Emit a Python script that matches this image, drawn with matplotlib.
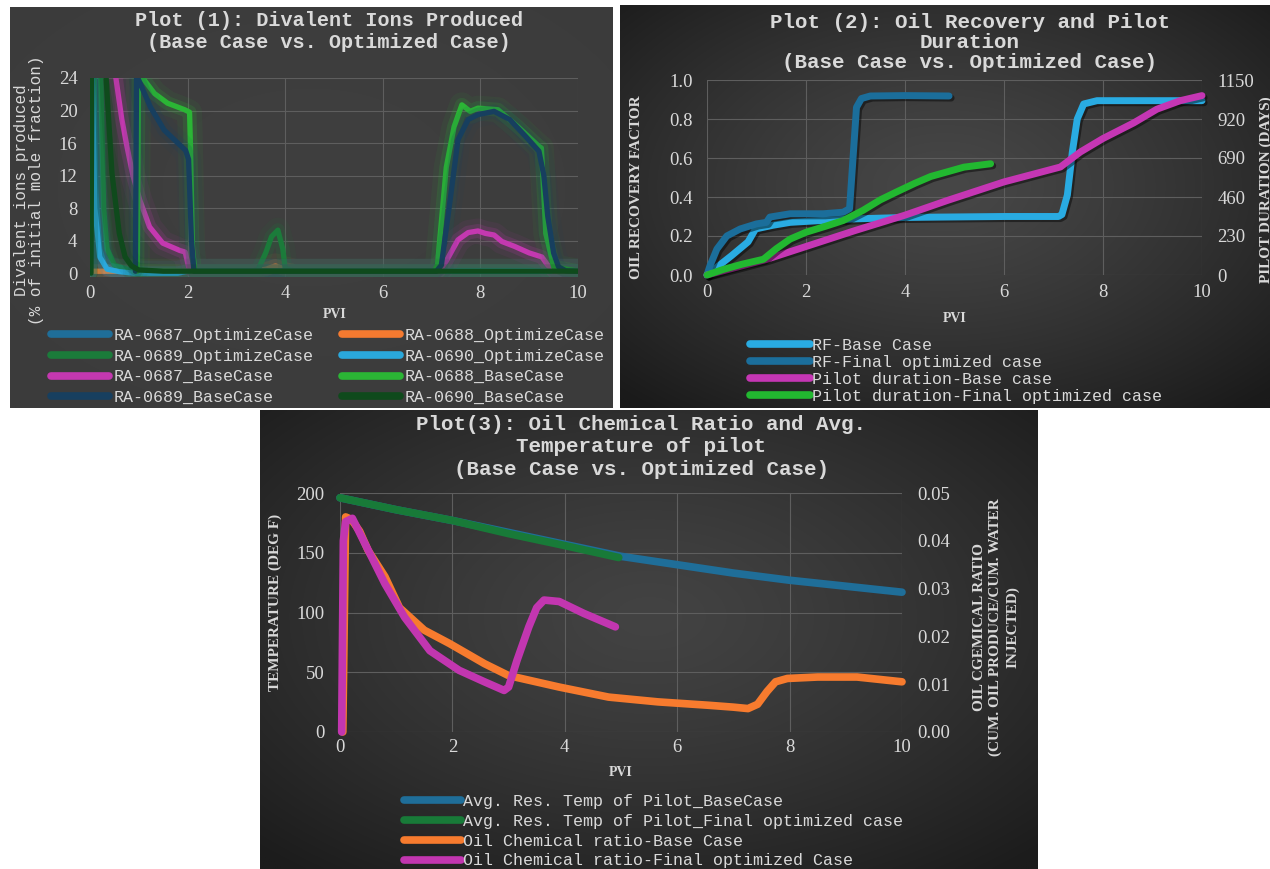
import numpy as np
import matplotlib
matplotlib.use("Agg")
import matplotlib.pyplot as plt
import matplotlib.patheffects as pe
from matplotlib.lines import Line2D
from matplotlib.colors import to_rgb

# ---------------- data : Plot 1 (divalent ions, % of initial mole fraction) ----------------
p1_labels = ["RA-0687_OptimizeCase", "RA-0688_OptimizeCase", "RA-0689_OptimizeCase",
             "RA-0690_OptimizeCase", "RA-0687_BaseCase", "RA-0688_BaseCase",
             "RA-0689_BaseCase", "RA-0690_BaseCase"]
p1_colors = ["#1f6e99", "#f47a30", "#1b7b3a", "#2aa8dc", "#c438b0", "#2bb535", "#173f5f", "#0f4a1c"]

x_687_opt = [0.0, 0.04, 0.08, 0.12, 0.2, 0.3, 0.5, 1.0, 2.0, 10.0]
y_687_opt = [0.0, 40.0, 24.0, 10.0, 3.0, 1.0, 0.3, 0.25, 0.25, 0.25]
x_688_opt = [0.0, 3.4, 3.6, 3.8, 4.0, 4.2, 10.0]
y_688_opt = [0.25, 0.25, 0.5, 0.9, 0.5, 0.25, 0.25]
x_689_opt = [0.0, 0.15, 0.22, 0.28, 0.35, 0.5, 0.8, 1.5, 3.3, 3.44, 3.6, 3.72, 3.85, 3.95, 4.0, 4.2, 5.0, 10.0]
y_689_opt = [0.0, 45.0, 24.0, 8.0, 3.0, 1.0, 0.4, 0.25, 0.25, 0.4, 2.5, 4.5, 5.3, 3.0, 0.6, 0.25, 0.25, 0.25]
x_690_opt = [0.0, 0.03, 0.06, 0.1, 0.2, 0.35, 0.6, 0.9, 1.8, 2.0, 10.0]
y_690_opt = [0.0, 30.0, 20.0, 8.0, 2.0, 0.5, 0.2, 0.0, 0.0, 0.25, 0.25]
x_687_base = [0.45, 0.53, 0.65, 0.76, 0.88, 1.02, 1.22, 1.49, 1.84, 1.95, 2.02, 2.1, 7.15, 7.3, 7.54,
              7.75, 7.95, 8.1, 8.28, 8.44, 8.7, 9.0, 9.26, 9.38, 9.5, 10.0]
y_687_base = [35.0, 24.0, 19.0, 15.5, 12.0, 9.0, 5.7, 3.7, 2.8, 2.6, 0.8, 0.25, 0.25, 1.5, 4.1,
              5.0, 5.2, 4.9, 4.7, 3.9, 3.3, 2.5, 2.0, 1.0, 0.25, 0.25]
x_688_base = [0.97, 1.0, 1.08, 1.32, 1.59, 1.94, 2.04, 2.06, 2.1, 2.15, 7.05, 7.12, 7.3, 7.46, 7.62,
              7.79, 7.95, 8.36, 8.77, 9.2, 9.25, 9.34, 9.5, 10.0]
y_688_base = [0.25, 30.0, 24.0, 22.1, 20.9, 20.1, 19.8, 15.4, 3.0, 0.25, 0.25, 1.0, 13.0, 18.0, 20.7,
              19.9, 20.3, 20.1, 18.0, 15.6, 15.4, 4.9, 0.8, 0.25]
x_689_base = [0.93, 0.96, 0.98, 1.24, 1.52, 1.8, 1.96, 2.02, 2.08, 2.13, 7.1, 7.2, 7.38, 7.54, 7.75,
              7.95, 8.28, 8.6, 8.93, 9.2, 9.3, 9.38, 9.5, 9.6, 9.75, 10.0]
y_689_base = [0.25, 30.0, 24.0, 20.4, 17.6, 16.0, 15.1, 14.0, 4.0, 0.25, 0.25, 1.0, 9.0, 16.4, 18.9,
              19.5, 19.9, 18.9, 16.8, 15.0, 12.0, 7.0, 2.5, 0.8, 0.3, 0.25]
x_690_base = [0.02, 0.05, 0.2, 0.33, 0.45, 0.6, 0.72, 0.85, 1.0, 1.5, 4.0, 7.0, 10.0]
y_690_base = [0.0, 40.0, 35.0, 24.0, 12.3, 4.9, 2.0, 0.9, 0.4, 0.25, 0.25, 0.25, 0.25]

p1_x = [x_687_opt, x_688_opt, x_689_opt, x_690_opt, x_687_base, x_688_base, x_689_base, x_690_base]
p1_y = [y_687_opt, y_688_opt, y_689_opt, y_690_opt, y_687_base, y_688_base, y_689_base, y_690_base]
p1_yticks = [0, 4, 8, 12, 16, 20, 24]
pvi_ticks = [0, 2, 4, 6, 8, 10]

# ---------------- data : Plot 2 (recovery factor, pilot duration) ----------------
x_rf_base = [0.0, 0.2, 0.5, 0.83, 0.98, 1.33, 1.68, 2.35, 3.0, 4.0, 4.7, 6.0, 7.1, 7.17, 7.28, 7.38,
             7.48, 7.61, 7.88, 9.0, 10.0]
rf_base = [0.0, 0.04, 0.1, 0.17, 0.236, 0.255, 0.27, 0.28, 0.288, 0.295, 0.297, 0.3, 0.3, 0.31, 0.41,
           0.63, 0.8, 0.877, 0.894, 0.894, 0.894]
x_rf_opt = [0.0, 0.06, 0.2, 0.4, 0.67, 1.0, 1.2, 1.27, 1.68, 2.35, 2.75, 2.88, 2.95, 3.02, 3.12, 3.3,
            4.0, 4.89]
rf_opt = [0.0, 0.047, 0.133, 0.2, 0.236, 0.262, 0.27, 0.297, 0.314, 0.314, 0.322, 0.34, 0.6, 0.86,
          0.905, 0.918, 0.92, 0.918]
x_pilot_base = [0.0, 0.6, 1.2, 2.0, 3.0, 4.0, 4.86, 6.0, 7.14, 7.54, 8.0, 8.62, 9.09, 9.56, 10.0]
pilot_base = [0, 46, 92, 168, 263, 353, 440, 549, 637, 725, 805, 897, 978, 1028, 1058]
x_pilot_opt = [0.0, 0.33, 0.7, 1.14, 1.4, 1.68, 2.0, 2.4, 2.75, 3.15, 3.5, 3.83, 4.2, 4.52, 5.19, 5.73]
pilot_opt = [0, 33, 63, 93, 155, 212, 252, 288, 321, 381, 443, 490, 541, 581, 636, 656]
p2_labels = ["RF-Base Case", "RF-Final optimized case", "Pilot duration-Base case",
             "Pilot duration-Final optimized case"]
p2_colors = ["#29abe2", "#1b6e9b", "#c536b4", "#22b830"]
rf_ticks = [0.0, 0.2, 0.4, 0.6, 0.8, 1.0]
days_ticks = [0, 230, 460, 690, 920, 1150]

# ---------------- data : Plot 3 (temperature, oil chemical ratio) ----------------
x_temp_base = [0, 1, 2, 3, 4, 5, 6, 7, 8, 9, 10]
temp_base = [196, 186, 177, 167, 157, 147, 140, 133, 127, 122, 117]
x_temp_opt = [0, 1, 2, 3, 4, 4.96]
temp_opt = [196, 186, 177, 166, 156, 146]
x_ratio_base = [0.05, 0.1, 0.2, 0.35, 0.5, 0.8, 1.06, 1.5, 1.95, 2.57, 3.0, 3.9, 4.78, 5.66, 6.55, 7.0,
                7.26, 7.43, 7.6, 7.75, 7.96, 8.5, 9.2, 10.0]
ratio_base = [0.0, 0.045, 0.0445, 0.042, 0.038, 0.0325, 0.026, 0.0213, 0.0185, 0.0143, 0.0118, 0.0094,
              0.0073, 0.0063, 0.0056, 0.0052, 0.0049, 0.0058, 0.0085, 0.0105, 0.0112, 0.0115, 0.0115, 0.0105]
x_ratio_opt = [0.03, 0.06, 0.1, 0.22, 0.44, 0.8, 1.15, 1.6, 2.12, 2.57, 2.92, 3.0, 3.15, 3.36, 3.5, 3.63,
               3.9, 4.34, 4.9]
ratio_opt = [0.0, 0.04, 0.044, 0.0447, 0.0395, 0.031, 0.024, 0.017, 0.0129, 0.0105, 0.0087, 0.0094,
             0.015, 0.022, 0.026, 0.0276, 0.0273, 0.0248, 0.022]
p3_labels = ["Avg. Res. Temp of Pilot_BaseCase", "Avg. Res. Temp of Pilot_Final optimized case",
             "Oil Chemical ratio-Base Case", "Oil Chemical ratio-Final optimized Case"]
p3_colors = ["#1f6e99", "#187a38", "#f77b2e", "#c236b0"]
temp_ticks = [0, 50, 100, 150, 200]
ratio_ticks = [0.0, 0.01, 0.02, 0.03, 0.04, 0.05]

# ---------------- figure helpers ----------------
W, H = 1270, 869
fig = plt.figure(figsize=(12.7, 8.69), dpi=100, facecolor="white")

TXT = "#d9d9d9"
MONO = "Liberation Mono"
SERIF = "Liberation Serif"
GRID = "#5e5e5e"


def rect(l, t, r, b):
    return [l / W, 1 - b / H, (r - l) / W, (b - t) / H]


def fxy(x, y):
    return x / W, 1 - y / H


def background(l, t, r, b, c_center, c_edge, power=1.3):
    ax = fig.add_axes(rect(l, t, r, b), zorder=0)
    ny = 200
    nx = int(ny * (r - l) / (b - t))
    X, Y = np.meshgrid(np.linspace(0, 1, nx), np.linspace(0, 1, ny))
    d = np.sqrt(((X - 0.5) / 0.72) ** 2 + ((Y - 0.45) / 0.72) ** 2)
    tt = np.clip(d, 0, 1) ** power
    c0 = np.array(to_rgb(c_center))
    c1 = np.array(to_rgb(c_edge))
    img = c0 * (1 - tt)[..., None] + c1 * tt[..., None]
    ax.imshow(img, aspect="auto", extent=(0, 1, 0, 1), interpolation="bilinear")
    ax.set_axis_off()
    return ax


def style(ax, pad_y, pad_x, grid=True):
    for s in ax.spines.values():
        s.set_visible(False)
    ax.set_facecolor("none")
    ax.tick_params(length=0, colors=TXT, labelsize=13.5)
    ax.tick_params(axis="y", pad=pad_y)
    ax.tick_params(axis="x", pad=pad_x)
    for lab in ax.get_xticklabels() + ax.get_yticklabels():
        lab.set_fontfamily(SERIF)
    if grid:
        ax.grid(True, color=GRID, lw=0.8)
        ax.set_axisbelow(True)


def ftext(x, y, s, **kw):
    fx, fy = fxy(x, y)
    kw.setdefault("color", TXT)
    kw.setdefault("ha", "center")
    kw.setdefault("va", "center")
    return fig.text(fx, fy, s, **kw)


# ================= Panel 1 =================
background(10, 7, 613, 408, "#3f3f3f", "#3b3b3b")
ax1 = fig.add_axes(rect(90, 78, 578, 276.5), zorder=1)
for xs, ys, c in zip(p1_x, p1_y, p1_colors):
    ax1.plot(xs, ys, color=c, lw=3.8, solid_joinstyle="round", solid_capstyle="round",
             path_effects=[pe.Stroke(linewidth=18, foreground=c, alpha=0.07),
                           pe.Stroke(linewidth=10, foreground=c, alpha=0.17),
                           pe.Normal()])
ax1.set_xlim(0, 10)
ax1.set_ylim(-0.4, 24)
ax1.set_yticks(p1_yticks)
ax1.set_xticks(pvi_ticks)
style(ax1, pad_y=9, pad_x=6)

ftext(329, 21, "Plot (1): Divalent Ions Produced", fontfamily=MONO, fontweight="bold", fontsize=14.5)
ftext(329, 43, "(Base Case vs. Optimized Case)", fontfamily=MONO, fontweight="bold", fontsize=14.5)
ftext(29, 190, "Divalent ions produced\n(% of initial mole fraction)", rotation=90,
      fontfamily=MONO, fontsize=11.5, linespacing=1.05, multialignment="center")
ftext(335, 314, "PVI", fontfamily=SERIF, fontweight="bold", fontsize=10)

order1 = [0, 2, 4, 6, 1, 3, 5, 7]
h1 = [Line2D([], [], color=p1_colors[i], lw=5.5, solid_capstyle="round") for i in order1]
fig.legend(h1, [p1_labels[i] for i in order1], loc="upper left", bbox_to_anchor=fxy(51, 328),
           ncol=2, frameon=False, borderpad=0, borderaxespad=0, handlelength=3.5,
           handletextpad=0.25, columnspacing=1.7, labelspacing=0.34,
           prop={"family": MONO, "size": 12}, labelcolor=TXT)

# ================= Panel 2 =================
background(620, 5, 1270, 408, "#474747", "#1a1a1a")
ax2 = fig.add_axes(rect(707, 80, 1202, 275), zorder=1)
shadow = [pe.SimpleLineShadow(offset=(1.5, -1.5), shadow_color="black", alpha=0.45), pe.Normal()]
ax2.plot(x_rf_base, rf_base, color=p2_colors[0], lw=5, solid_capstyle="round",
         solid_joinstyle="round", clip_on=False, path_effects=shadow)
ax2.plot(x_rf_opt, rf_opt, color=p2_colors[1], lw=5, solid_capstyle="round",
         solid_joinstyle="round", clip_on=False, path_effects=shadow)
ax2.set_xlim(0, 10)
ax2.set_ylim(0, 1.0)
ax2.set_yticks(rf_ticks)
ax2.set_yticklabels([f"{v:.1f}" for v in rf_ticks])
ax2.set_xticks(pvi_ticks)
style(ax2, pad_y=10, pad_x=6.5)
ax2b = ax2.twinx()
ax2b.plot(x_pilot_base, pilot_base, color=p2_colors[2], lw=5, solid_capstyle="round",
          solid_joinstyle="round", clip_on=False, path_effects=shadow)
ax2b.plot(x_pilot_opt, pilot_opt, color=p2_colors[3], lw=5, solid_capstyle="round",
          solid_joinstyle="round", clip_on=False, path_effects=shadow)
ax2b.set_ylim(0, 1150)
ax2b.set_yticks(days_ticks)
style(ax2b, pad_y=11, pad_x=6.5, grid=False)

for yy, s in zip([22, 43, 63], ["Plot (2): Oil Recovery and Pilot", "Duration",
                                 "(Base Case vs. Optimized Case)"]):
    ftext(970, yy, s, fontfamily=MONO, fontweight="bold", fontsize=15)
ftext(637, 187, "OIL RECOVERY FACTOR", rotation=90, fontfamily=SERIF, fontweight="bold", fontsize=11)
ftext(1266, 190, "PILOT DURATION (DAYS)", rotation=90, fontfamily=SERIF, fontweight="bold", fontsize=11)
ftext(955, 318, "PVI", fontfamily=SERIF, fontweight="bold", fontsize=10)

h2 = [Line2D([], [], color=c, lw=5.5, solid_capstyle="round") for c in p2_colors]
fig.legend(h2, p2_labels, loc="upper left", bbox_to_anchor=fxy(750, 338), ncol=1, frameon=False,
           borderpad=0, borderaxespad=0, handlelength=3.6, handletextpad=0.1, labelspacing=0.12,
           prop={"family": MONO, "size": 12}, labelcolor=TXT)

# ================= Panel 3 =================
background(260, 410, 1038, 869, "#434343", "#1c1c1c")
ax3 = fig.add_axes(rect(340, 493, 902, 732), zorder=1)
ax3.plot(x_temp_base, temp_base, color=p3_colors[0], lw=5.5, solid_capstyle="round",
         solid_joinstyle="round", clip_on=False)
ax3.plot(x_temp_opt, temp_opt, color=p3_colors[1], lw=5.5, solid_capstyle="round",
         solid_joinstyle="round", clip_on=False)
ax3.set_xlim(0, 10)
ax3.set_ylim(0, 200)
ax3.set_yticks(temp_ticks)
ax3.set_xticks(pvi_ticks)
style(ax3, pad_y=11, pad_x=5)
ax3b = ax3.twinx()
ax3b.plot(x_ratio_base, ratio_base, color=p3_colors[2], lw=5.5, solid_capstyle="round",
          solid_joinstyle="round", clip_on=False)
ax3b.plot(x_ratio_opt, ratio_opt, color=p3_colors[3], lw=5.5, solid_capstyle="round",
          solid_joinstyle="round", clip_on=False)
ax3b.set_ylim(0, 0.05)
ax3b.set_yticks(ratio_ticks)
ax3b.set_yticklabels([f"{v:.2f}" for v in ratio_ticks])
style(ax3b, pad_y=11, pad_x=5, grid=False)

for yy, s in zip([425, 447, 470], ["Plot(3): Oil Chemical Ratio and Avg.", "Temperature of pilot",
                                   "(Base Case vs. Optimized Case)"]):
    ftext(641, yy, s, fontfamily=MONO, fontweight="bold", fontsize=15)
ftext(275, 602, "TEMPERATURE (DEG F)", rotation=90, fontfamily=SERIF, fontweight="bold", fontsize=11)
ftext(996, 627, "OIL CGEMICAL RATIO\n(CUM. OIL PRODUCE/CUM. WATER\nINJECTED)", rotation=90,
      fontfamily=SERIF, fontweight="bold", fontsize=11, multialignment="center", linespacing=1.3)
ftext(621, 773, "PVI", fontfamily=SERIF, fontweight="bold", fontsize=10)

h3 = [Line2D([], [], color=c, lw=5.5, solid_capstyle="round") for c in p3_colors]
fig.legend(h3, p3_labels, loc="upper left", bbox_to_anchor=fxy(404, 794), ncol=1, frameon=False,
           borderpad=0, borderaxespad=0, handlelength=3.4, handletextpad=0.15, labelspacing=0.29,
           prop={"family": MONO, "size": 12}, labelcolor=TXT)

fig.savefig("out.png", dpi=100, facecolor="white")
